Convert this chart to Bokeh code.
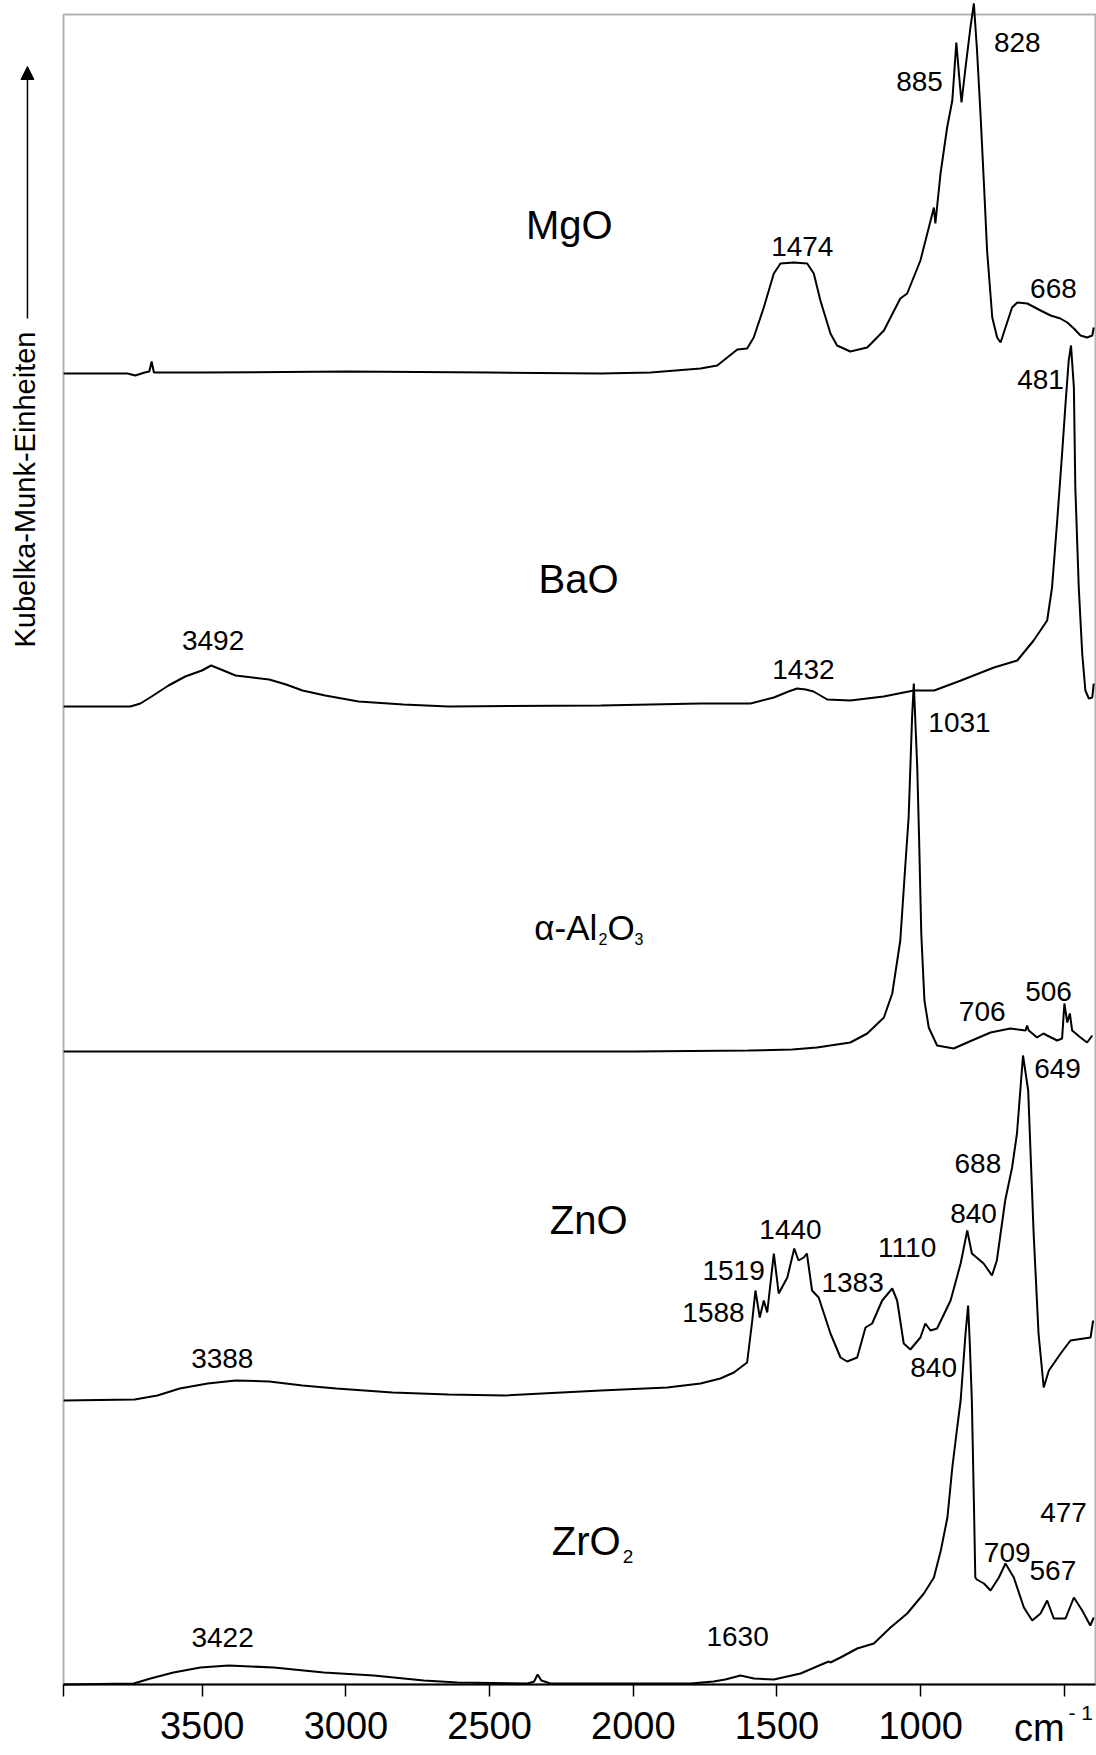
import math
from bokeh.plotting import figure
from bokeh.models import (Range1d, FixedTicker, Label, LabelSet, Arrow, NormalHead,
                          ColumnDataSource, BoxAnnotation)
from bokeh.core.properties import value
from bokeh.embed import file_html
from bokeh.resources import INLINE

FONT = "Liberation Sans"

# ---------------- data (wavenumber in cm-1, Kubelka-Munk intensity, arbitrary units) ----------------
mgo_wn = [3982, 3760, 3733, 3700, 3684, 3676, 3668, 3620, 3500, 3000, 2500, 2113, 1940, 1766, 1708, 1673,
          1638, 1604, 1581, 1546, 1511, 1488, 1442, 1395, 1372, 1349, 1314, 1291, 1245, 1186, 1128, 1071,
          1047, 1001, 954, 949, 931, 908, 890, 882, 876, 867, 858, 844, 827, 815, 804, 792, 780, 769, 751,
          734, 722, 705, 682, 664, 629, 583, 548, 514, 490, 467, 444, 421, 403, 398]
mgo_km = [0, 0, -2, 1, 2, 12, 1, 1, 1, 2, 1, 0, 1, 5, 8, 16,
          24, 25, 36, 66, 100, 110, 111, 110, 100, 73, 40, 28, 22, 26, 43, 75,
          80, 113, 166, 150, 200, 246, 273, 306, 331, 300, 271, 306, 346, 370, 323, 260, 190, 123, 56,
          36, 31, 46, 66, 71, 70, 63, 58, 55, 51, 45, 38, 36, 38, 46]

bao_wn = [3982, 3750, 3715, 3676, 3617, 3559, 3501, 3469, 3443, 3384, 3325, 3267, 3208, 3151, 3072, 2956,
          2800, 2643, 2113, 1767, 1592, 1511, 1460, 1430, 1400, 1373, 1325, 1245, 1129, 1024, 953, 860,
          745, 664, 607, 560, 543, 525, 508, 496, 485, 477, 467, 462, 450, 438, 427, 415, 403, 398]
bao_km = [0, 0, 3, 10, 21, 30, 36, 41, 38, 31, 29, 27, 22, 16, 11, 5,
          2, 0, 1, 3, 3, 9, 15, 18, 17, 15, 7, 6, 10, 16, 16, 26,
          39, 46, 66, 86, 119, 186, 253, 303, 346, 361, 319, 219, 119, 53, 16, 8, 9, 23]

al2o3_wn = [3982, 3000, 2000, 1600, 1447, 1361, 1245, 1186, 1128, 1099, 1071, 1054, 1042, 1036, 1030, 1024,
            1012, 1006, 998, 987, 972, 943, 885, 838, 757, 688, 635, 630, 624, 595, 573, 560, 525, 508,
            500, 490, 481, 473, 444, 421, 403]
al2o3_km = [0, 0, 0, 1, 2, 4, 9, 18, 34, 58, 111, 184, 234, 284, 334, 368,
            284, 218, 118, 51, 24, 6, 3, 9, 19, 23, 21, 26, 21, 14, 18, 16, 11, 13,
            48, 29, 38, 21, 14, 9, 16]

zno_wn = [3982, 3735, 3656, 3578, 3481, 3384, 3267, 3151, 3033, 2838, 2643, 2448, 2113, 1882, 1766, 1697,
          1650, 1604, 1586, 1575, 1560, 1546, 1534, 1511, 1494, 1464, 1440, 1425, 1407, 1396, 1378, 1355,
          1314, 1279, 1256, 1221, 1192, 1169, 1134, 1099, 1082, 1059, 1036, 1001, 984, 966, 943, 896, 861,
          838, 822, 781, 752, 735, 706, 682, 665, 644, 626, 607, 590, 572, 554, 513, 479, 409, 400]
zno_km = [0, 1, 5, 12, 17, 20, 19, 15, 12, 8, 6, 5, 10, 13, 17, 22,
          28, 38, 80, 110, 83, 100, 88, 147, 107, 123, 152, 140, 143, 147, 110, 103,
          67, 43, 39, 43, 73, 77, 100, 112, 100, 57, 51, 63, 77, 70, 72, 100, 137,
          170, 147, 137, 125, 140, 200, 233, 267, 345, 310, 167, 67, 13, 30, 47, 60, 63, 80]

zro2_wn = [3982, 3738, 3680, 3600, 3506, 3408, 3251, 3077, 2903, 2729, 2612, 2368, 2345, 2333, 2320, 2288,
           1801, 1721, 1680, 1627, 1580, 1511, 1418, 1337, 1320, 1314, 1279, 1221, 1163, 1105, 1047, 989,
           954, 930, 907, 890, 873, 861, 844, 835, 829, 822, 815, 810, 805, 780, 757, 728, 705, 676, 641,
           612, 583, 560, 537, 496, 467, 438, 410, 398]
zro2_km = [0, 1, 6, 12, 17, 19, 17, 12, 9, 4, 2, 1, 3, 10, 4, 1,
           1, 3, 5, 9, 6, 5, 11, 21, 23, 22, 27, 36, 41, 57, 71, 91,
           107, 134, 167, 217, 257, 284, 351, 379, 340, 284, 184, 107, 105, 101, 94, 107, 121, 107, 77,
           64, 71, 84, 66, 66, 87, 74, 59, 67]

# vertical stacking offsets of the spectra
spectra = [("MgO", mgo_wn, mgo_km, 1311),
           ("BaO", bao_wn, bao_km, 978),
           ("Al2O3", al2o3_wn, al2o3_km, 633),
           ("ZnO", zno_wn, zno_km, 284),
           ("ZrO2", zro2_wn, zro2_km, 0)]

# peak annotations: text, wavenumber position, height position
peak_text = ["885", "828", "1474", "668",
             "3492", "1432", "481",
             "1031", "706", "506",
             "649", "688", "840", "1440", "1110", "1519", "1383", "1588", "840", "3388",
             "477", "709", "567", "3422", "1630"]
peak_x = [1004, 664, 1412, 538,
          3462, 1408, 583,
          865, 786, 555,
          524, 801, 816, 1453, 1047, 1651, 1237, 1721, 955, 3430,
          503, 699, 540, 3429, 1637]
peak_y = [1603, 1642, 1438, 1396,
          1044, 1015, 1305,
          962, 673, 693,
          616, 521, 471, 455, 437, 414, 402, 372, 317, 326,
          172, 132, 114, 47, 48]

# axis limits of the plotting box and tick marks
X_LEFT, X_RIGHT = 3982.6, 391.8
Y_BOTTOM, Y_TOP = 0, 1670
x_ticks = [3982, 3500, 3000, 2500, 2000, 1500, 1000, 500]
x_tick_labels = {3982: "", 500: ""}

# ---------------- figure ----------------
p = figure(width=1096, height=1755,
           x_range=Range1d(4201.8, 388.3), y_range=Range1d(-71, 1684),
           y_axis_location=None, output_backend="svg", toolbar_location=None,
           min_border=0)
p.background_fill_color = "white"
p.border_fill_color = "white"
p.outline_line_color = None
p.xgrid.visible = False
p.ygrid.visible = False

p.add_layout(BoxAnnotation(left=X_LEFT, right=X_RIGHT, bottom=Y_BOTTOM, top=Y_TOP,
                           fill_alpha=0, fill_color=None, line_color="black", line_width=2))

ax = p.xaxis[0]
ax.fixed_location = Y_BOTTOM
ax.bounds = (X_RIGHT, X_LEFT)
ax.ticker = FixedTicker(ticks=x_ticks)
ax.major_label_overrides = x_tick_labels
ax.axis_line_color = "black"
ax.axis_line_width = 2
ax.major_tick_line_color = "black"
ax.major_tick_line_width = 1.5
ax.major_tick_out = 12
ax.major_tick_in = 0
ax.minor_tick_line_color = None
ax.major_label_text_font = FONT
ax.major_label_text_font_size = "38px"
ax.major_label_text_color = "black"
ax.major_label_standoff = 15

for name, wn, km, off in spectra:
    p.line(wn, [v + off for v in km], line_color="black", line_width=2)

src = ColumnDataSource(dict(x=peak_x, y=peak_y, t=peak_text))
p.add_layout(LabelSet(x="x", y="y", text="t", source=src, text_align="center",
                      text_baseline="middle", text_font=value(FONT), text_font_size=value("28px"),
                      text_color="black"))

def lab(txt, x, y, size, align="right", **kw):
    p.add_layout(Label(x=x, y=y, text=txt, text_align=align, text_baseline="middle",
                       text_font=FONT, text_font_size=size, text_color="black", **kw))

# sample names
lab("MgO", 2072, 1460, "40px")
lab("BaO", 2051, 1106, "40px")
lab("ZnO", 2020, 465, "40px")
lab("ZrO", 2044, 144, "40px")
lab("2", 2037, 128, "19px", align="left")
lab("\u03b1-Al", 2125, 757, "35px")
lab("2", 2121, 746, "16px", align="left")
lab("O", 2090, 757, "35px", align="left")
lab("3", 1996, 746, "16px", align="left")

# x unit
lab("cm", 587, -43, "38px", align="center")
lab("- 1", 486, -28, "21px", align="left")

# y axis title with arrow
p.add_layout(Label(x=4115, y=1195, text="Kubelka-Munk-Einheiten",
                   angle=math.pi / 2, text_align="center", text_baseline="middle",
                   text_font=FONT, text_font_size="29px", text_color="black"))
p.add_layout(Arrow(x_start=4108, y_start=1366, x_end=4108, y_end=1618,
                   line_color="black", line_width=1.5,
                   end=NormalHead(size=13, fill_color="black", line_color="black", line_width=1)))

open("out.html", "w").write(file_html(p, INLINE))
